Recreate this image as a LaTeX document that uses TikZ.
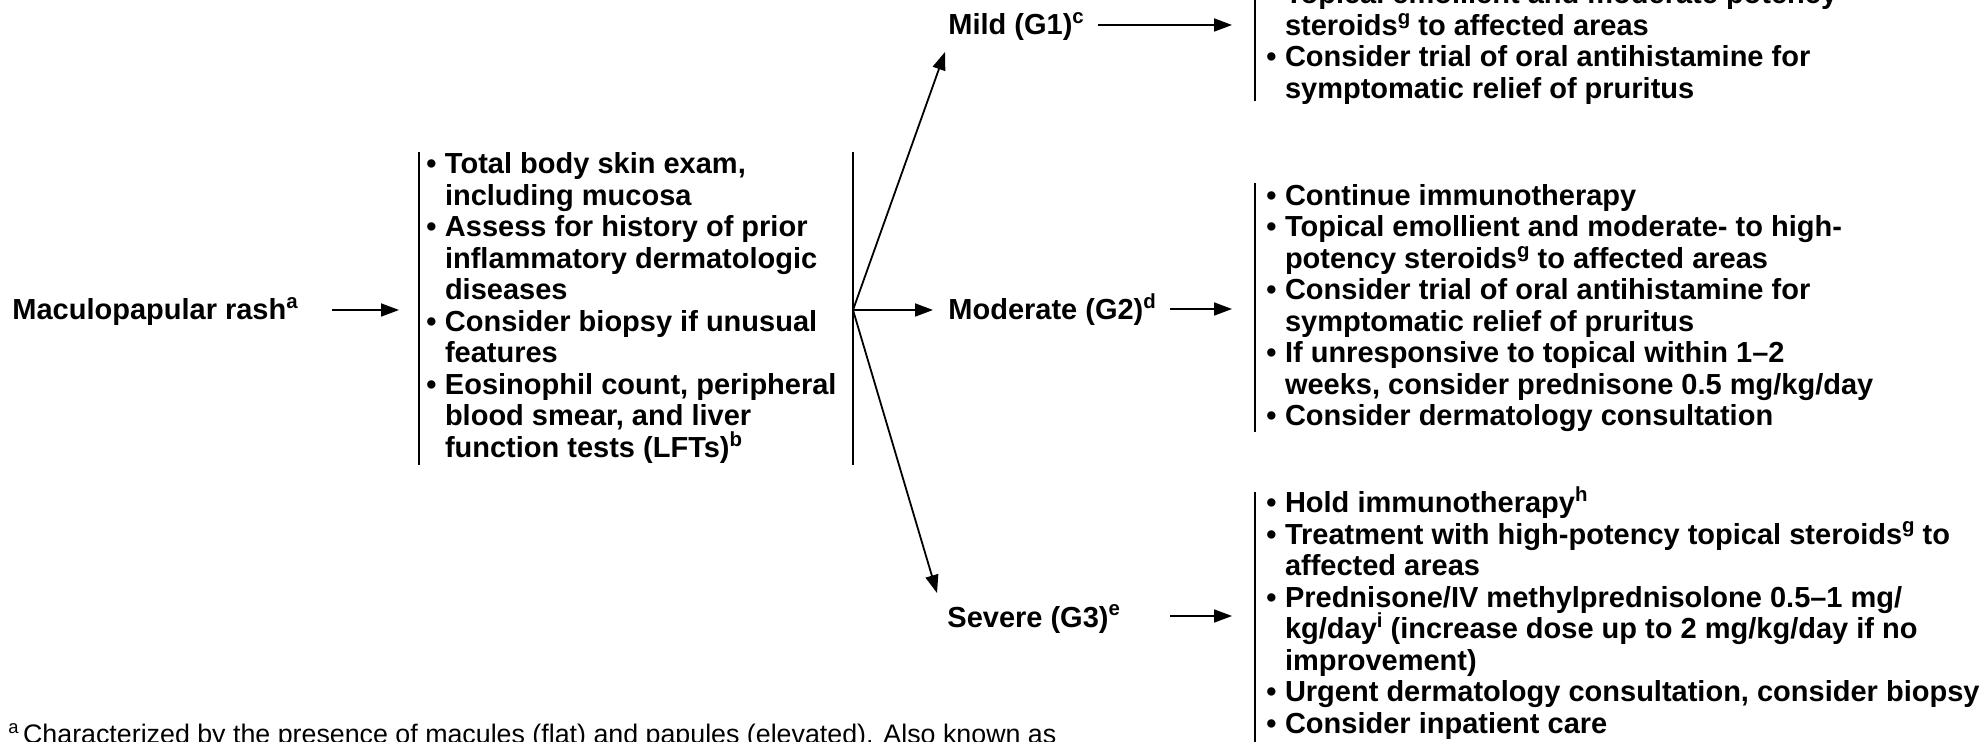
\documentclass[tikz,border=0pt]{standalone}
\usepackage{fontspec}
\setmainfont{Liberation Sans}
\usetikzlibrary{arrows.meta}

% raised footnote markers for the bold body text and for the plain note
\newcommand\supr[1]{\raisebox{5.6pt}{\fontsize{10.2pt}{11pt}\selectfont #1}}
\newcommand\suprn[1]{\raisebox{4.8pt}{\fontsize{9.2pt}{10pt}\selectfont #1}}
% bullet item and hanging continuation
\newcommand\bitem{\makebox[9.3pt][l]{•}}
\newcommand\bcont{\hspace*{9.3pt}}

\begin{document}
\begin{tikzpicture}[x=0.5pt,y=-0.5pt,
  lbl/.style={anchor=base west, inner sep=0pt,
    font=\bfseries\fontsize{14.5pt}{15.75pt}\selectfont},
  txt/.style={anchor=base west, inner sep=0pt,
    font=\bfseries\fontsize{14.5pt}{15.75pt}\selectfont},
  note/.style={anchor=base west, inner sep=0pt,
    font=\fontsize{13.4pt}{15pt}\selectfont},
  bar/.style={line width=1pt},
  arr/.style={line width=0.9pt, -{Triangle[length=9pt,width=6.5pt]}},
]
\useasboundingbox (0,0) rectangle (1984,742);
\clip (0,0) rectangle (1984,742);
\fill[white] (0,0) rectangle (1984,742);

% ---- labels ----
\node[lbl] (mac)  at (12,320)  {Maculopapular rash\supr{a}};
\node[lbl] (mild) at (948,35)  {Mild (G1)\supr{c}};
\node[lbl] (mod)  at (948,320) {Moderate (G2)\supr{d}};
\node[lbl] (sev)  at (947,627) {Severe (G3)\supr{e}};

% ---- work-up box ----
\node[txt] (b1) at (426,174) {\parbox[t]{420pt}{\raggedright\lineskiplimit=-100pt
\bitem Total body skin exam,\\
\bcont including mucosa\\
\bitem Assess for history of prior\\
\bcont inflammatory dermatologic\\
\bcont diseases\\
\bitem Consider biopsy if unusual\\
\bcont features\\
\bitem Eosinophil count, peripheral\\
\bcont blood smear, and liver\\
\bcont function tests (LFTs)\supr{b}}};

% ---- management boxes ----
\node[txt] (g1) at (1266,4) {\parbox[t]{700pt}{\raggedright\lineskiplimit=-100pt
\bitem Topical emollient and moderate potency\\
\bcont steroids\supr{g} to affected areas\\
\bitem Consider trial of oral antihistamine for\\
\bcont symptomatic relief of pruritus}};

\node[txt] (g2) at (1266,205.5) {\parbox[t]{700pt}{\raggedright\lineskiplimit=-100pt
\bitem Continue immunotherapy\\
\bitem Topical emollient and moderate- to high-\\
\bcont potency steroids\supr{g} to affected areas\\
\bitem Consider trial of oral antihistamine for\\
\bcont symptomatic relief of pruritus\\
\bitem If unresponsive to topical within 1–2\\
\bcont weeks, consider prednisone 0.5 mg/kg/day\\
\bitem Consider dermatology consultation}};

\node[txt] (g3) at (1266,512.5) {\parbox[t]{700pt}{\raggedright\lineskiplimit=-100pt
\bitem Hold immunotherapy\supr{h}\\
\bitem Treatment with high-potency topical steroids\supr{g} to\\
\bcont affected areas\\
\bitem Prednisone/IV methylprednisolone 0.5–1 mg/\\
\bcont kg/day\supr{i} (increase dose up to 2 mg/kg/day if no\\
\bcont improvement)\\
\bitem Urgent dermatology consultation, consider biopsy\\
\bitem Consider inpatient care}};

% ---- footnote ----
\node[note] (fn) at (8,743) {\suprn{a}\,Characterized by the presence of macules (flat) and papules (elevated). Also known as};

% ---- bracket bars ----
\coordinate (b1lt) at (419,152);  \coordinate (b1lb) at (419,465);
\coordinate (b1rt) at (853,152);  \coordinate (b1rb) at (853,465);
\coordinate (g1t)  at (1255,-10); \coordinate (g1b)  at (1255,101);
\coordinate (g2t)  at (1255,183); \coordinate (g2b)  at (1255,432);
\coordinate (g3t)  at (1255,492); \coordinate (g3b)  at (1255,760);
\draw[bar] (b1lt) -- (b1lb);
\draw[bar] (b1rt) -- (b1rb);
\draw[bar] (g1t) -- (g1b);
\draw[bar] (g2t) -- (g2b);
\draw[bar] (g3t) -- (g3b);

% ---- connectors ----
\coordinate (macout) at (332,310);  \coordinate (b1in) at (399,310);
\coordinate (hub)    at (853,310);
\coordinate (mildin) at (945,52);
\coordinate (modin)  at (933,310);
\coordinate (sevin)  at (937,593);
\coordinate (mildout) at (1098,25); \coordinate (g1in) at (1232,25);
\coordinate (modout)  at (1170,309); \coordinate (g2in) at (1232,309);
\coordinate (sevout)  at (1170,616); \coordinate (g3in) at (1232,616);

\draw[arr] (macout) -- (b1in);
\draw[arr] (hub) -- (mildin);
\draw[arr] (hub) -- (modin);
\draw[arr] (hub) -- (sevin);
\draw[arr] (mildout) -- (g1in);
\draw[arr] (modout) -- (g2in);
\draw[arr] (sevout) -- (g3in);
\end{tikzpicture}
\end{document}
